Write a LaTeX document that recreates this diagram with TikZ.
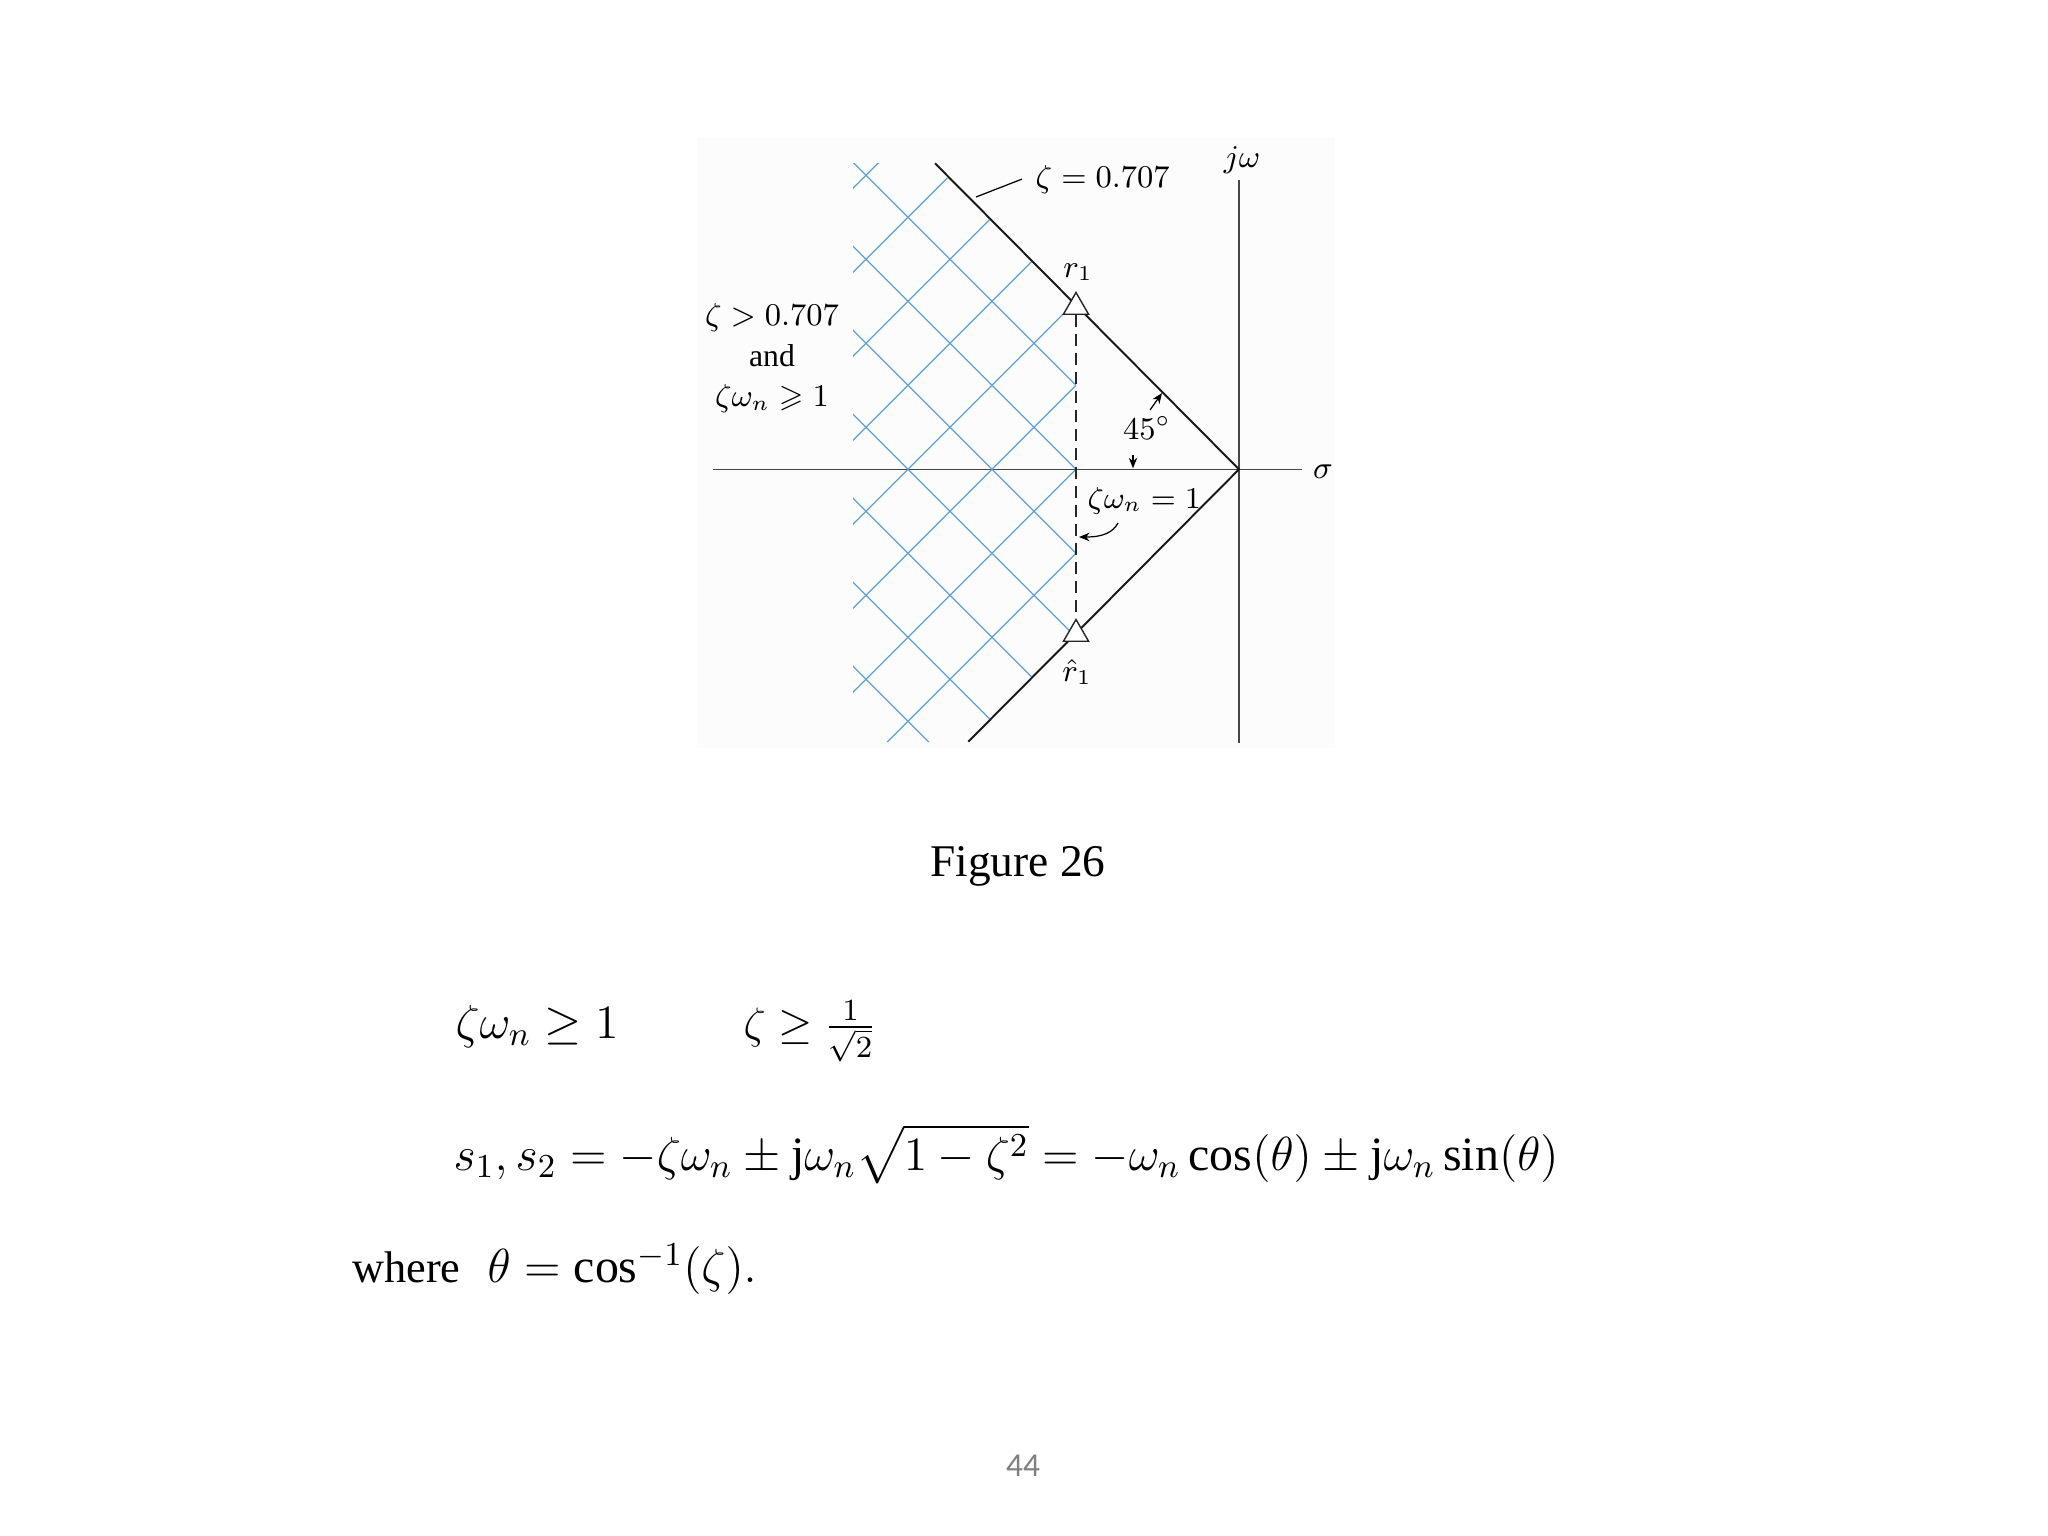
\RequirePackage{fix-cm}
\documentclass[tikz,border=0pt]{standalone}
\usepackage{amssymb}
\usepackage{fontspec}
\setmainfont{Liberation Serif}
\newfontfamily\slidenum{Carlito}
\usetikzlibrary{arrows.meta,shapes.geometric}
\definecolor{hatchblue}{RGB}{95,160,212}
\definecolor{axisgray}{RGB}{70,70,70}
\definecolor{numgray}{RGB}{128,128,128}

\begin{document}
\begin{tikzpicture}[x=0.01cm,y=-0.01cm,
    lbl/.style={inner sep=0pt,font=\fontsize{9}{11}\selectfont},
    axis/.style={draw=axisgray,line width=0.35pt},
    zline/.style={draw=black!90,line width=0.55pt},
    hatch/.style={draw=hatchblue,line width=0.35pt},
    pole/.style={draw=black!85,fill=white,regular polygon,regular polygon sides=3,
        minimum size=0.29cm,inner sep=0pt,line width=0.4pt},
    ptr/.style={-{Stealth[length=3pt,width=2.4pt]},line width=0.35pt},
    eqn/.style={anchor=base west,inner sep=0pt,font=\fontsize{13.6}{16}\selectfont}]
  \useasboundingbox (0,0) rectangle (2048,1536);
  \fill[black!1] (697,137) rectangle (1335,748);

  % s-plane
  \coordinate (O) at (1239,469.3);
  \coordinate (ztop) at (935,163.3);
  \coordinate (zbot) at (968.3,741.7);
  \coordinate (sigL) at (713,469.3);
  \coordinate (sigR) at (1302,469.3);
  \coordinate (jwB) at (1239,743);
  \coordinate (jwT) at (1239,180);
  \draw[axis] (sigL) -- (sigR);
  \draw[axis] (jwB) -- (jwT);

  % allowed region
  \begin{scope}
    \clip (853,163) -- (932.7,163) -- (1076,306.3) -- (1076,632.3)
      -- (966.6,742) -- (853,742) -- cycle;
    \foreach \m in {-5,...,7}{
      \draw[hatch] ({1076-84*\m-400},69.3) -- ({1076-84*\m+400},869.3);
      \draw[hatch] ({1076-84*\m-400},869.3) -- ({1076-84*\m+400},69.3);
    }
  \end{scope}

  \draw[zline] (ztop) -- (O) -- (zbot);
  \node[pole] (r1) at (1076,307) {};
  \node[pole] (r1h) at (1076,634) {};
  \draw[black!85,line width=0.4pt,dash pattern=on 3.4pt off 2pt] (r1.south) -- (r1h.north);

  \node[lbl] (r1lab) at (1078,272) {$r_1$};
  \node[lbl] (r1hlab) at (1077,672) {$\hat{r}_1$};
  \node[lbl] (sig) at (1323,472) {$\sigma$};
  \node[lbl] (jw) at (1242,160) {$j\omega$};

  \node[lbl,anchor=base west] (z707) at (1035,187) {$\zeta = 0.707$};
  \coordinate (lead) at (976,197);
  \draw[line width=0.35pt] (lead) -- ([xshift=-1.3mm]z707.west);

  \node[lbl,anchor=base] (reg1) at (772,325) {$\zeta > 0.707$};
  \node[lbl,anchor=base] (reg2) at (772,366.7) {and};
  \node[lbl,anchor=base] (reg3) at (772,406.7) {$\zeta\omega_n \geqslant 1$};

  \node[lbl] (ang) at (1147,428) {$45^\circ$};
  \coordinate (angA) at (1150,410);
  \coordinate (angB) at (1162,393);
  \coordinate (angC) at (1133,455);
  \coordinate (angD) at (1133,468.3);
  \draw[ptr] (angA) -- (angB);
  \draw[ptr] (angC) -- (angD);

  \node[lbl,anchor=base west,font=\fontsize{8.6}{11}\selectfont] (zw1) at (1087,508) {$\zeta\omega_n = 1$};
  \coordinate (hookA) at (1118,523);
  \coordinate (hookB) at (1079,537);
  \draw[ptr] (hookA) .. controls (1113,532) and (1104,537) .. (hookB);

  % text of the slide
  \node[anchor=base,inner sep=0pt,font=\fontsize{12.9}{15}\selectfont] (cap) at (1018,876.7) {Figure 26};
  \node[eqn] (eq1) at (455,1038) {$\zeta\omega_n \geq 1$};
  \node[eqn,font=\fontsize{12.5}{15}\selectfont] (eq2) at (743,1038) {$\zeta \geq \frac{1}{\sqrt{2}}$};
  \node[eqn] (eq3) at (453,1170)
    {$s_1, s_2 = -\zeta\omega_n \pm \mathrm{j}\omega_n\sqrt{1-\zeta^2} = -\omega_n\cos(\theta) \pm \mathrm{j}\omega_n\sin(\theta)$};
  \node[anchor=base west,inner sep=0pt,font=\fontsize{12.6}{15}\selectfont] (eq4) at (351.7,1282.7)
    {where\hspace{2.7mm}{\fontsize{13.6}{16}\selectfont$\theta = \cos^{-1}(\zeta).$}};
  \node[anchor=base,inner sep=0pt,text=numgray,font=\slidenum\fontsize{9.5}{11}\selectfont] (pgnum) at (1023,1476) {44};
\end{tikzpicture}
\end{document}
